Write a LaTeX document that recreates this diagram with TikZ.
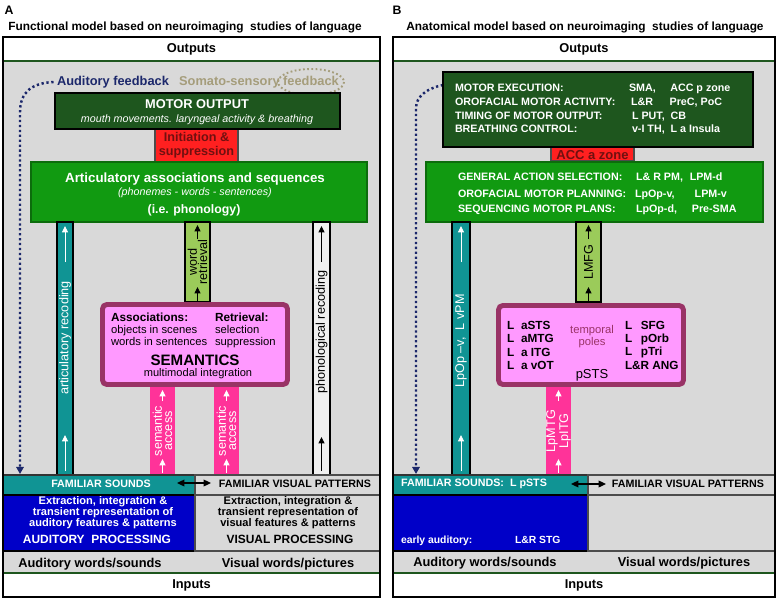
\documentclass[tikz,border=0pt]{standalone}
\usepackage{fontspec}
\setmainfont{Liberation Sans}
\usetikzlibrary{arrows.meta}

\definecolor{panelgray}{HTML}{D9D9D9}
\definecolor{motorgreen}{HTML}{1E561E}
\definecolor{phongreen}{HTML}{119A11}
\definecolor{recteal}{HTML}{109494}
\definecolor{wordgreen}{HTML}{9BCB5A}
\definecolor{sempink}{HTML}{FF99FF}
\definecolor{semframe}{HTML}{993366}
\definecolor{accesspink}{HTML}{FF3399}
\definecolor{audblue}{HTML}{0000C8}
\definecolor{initred}{HTML}{FF2020}
\definecolor{inittext}{HTML}{701010}
\definecolor{fbnavy}{HTML}{1C286B}
\definecolor{fbkhaki}{HTML}{A59D7B}

\newcommand{\fsize}[2]{\fontsize{#1}{#2}\selectfont}

\begin{document}
\begin{tikzpicture}[x=0.02cm,y=-0.02cm,
  txt/.style={inner sep=0pt,outer sep=0pt},
  head/.style={txt,font=\fsize{7.3}{8}\bfseries},
  small/.style={txt,font=\fsize{6.1}{7}\bfseries},
  barlabel/.style={txt,rotate=90,align=center,font=\fsize{7.2}{5.9}},
  uparrow/.style={-{Triangle[width=3.4pt,length=3.6pt]},line width=0.55pt},
  twoway/.style={{Triangle[width=3.8pt,length=4.2pt]}-{Triangle[width=3.8pt,length=4.2pt]},line width=0.75pt},
  feedback/.style={draw=fbnavy,line width=1.4pt,dash pattern=on 1.3pt off 1.5pt,-{Triangle[width=4.2pt,length=4pt]}}]
\useasboundingbox (0,0) rectangle (777,601);

% ---------- A: functional model ----------
\node[txt,font=\fsize{7}{8}\bfseries] (tagA) at (9,10) {A};
\node[txt,font=\fsize{6.75}{8}\bfseries] (titleA) at (185,27) {Functional model based on neuroimaging\ \ studies of language};
\fill[panelgray] (3,37) rectangle (380,597);
\fill[white] (3,37) rectangle (380,61);
\fill[white] (3,573) rectangle (380,597);
\draw[motorgreen,line width=1pt] (3,61) -- (380,61) (3,573) -- (380,573);
\node[head] (outA) at (191.5,49.5) {Outputs};
\node[head] (inA) at (191.5,585) {Inputs};

% feedback loops
\draw[fbkhaki,line width=1.1pt,dash pattern=on 1pt off 1.4pt] (311,82) ellipse [x radius=33,y radius=13];
\node[head,text=fbnavy] (audfbA) at (113,82) {Auditory feedback};
\node[head,text=fbkhaki] (somfbA) at (259,82) {Somato-sensory feedback};
\coordinate (fbturnA) at (20,112);
\coordinate (fbendA) at (20,474);
\draw[feedback] ([xshift=-2pt]audfbA.west) .. controls (32,83) and (20,92) .. (fbturnA) -- (fbendA);

% motor output
\filldraw[fill=initred,draw=black!70,line width=0.6pt] (155,129) rectangle (238,162);
\node[txt,align=center,font=\fsize{7.2}{8.2}\bfseries,text=inittext] (initA) at (196.5,145) {Initiation \&\\suppression};
\filldraw[fill=motorgreen,draw=black,line width=1pt] (55,93) rectangle (340,129);
\node[head,text=white] (motorA) at (197,104) {MOTOR OUTPUT};
\node[txt,font=\fsize{6.1}{7}\itshape,text=white] (mouthA) at (197,120) {mouth movements. laryngeal activity \& breathing};

% phonology
\filldraw[fill=phongreen,draw=phongreen!70!black,line width=0.6pt] (31,162) rectangle (367,222);
\node[txt,font=\fsize{7.6}{8}\bfseries,text=white] (artA) at (195,179) {Articulatory associations and sequences};
\node[txt,font=\fsize{6.1}{7}\itshape,text=white] (phonemesA) at (195,193) {(phonemes - words - sentences)};
\node[txt,font=\fsize{7}{8}\bfseries,text=white] (phonA) at (194,210) {(i.e. phonology)};

% bars
\filldraw[fill=recteal,draw=black,line width=1pt] (57,222) rectangle (73,475);
\node[barlabel,text=white] (artrecA) at (65,338) {articulatory recoding};
\coordinate (artupA) at (65,262);
\coordinate (artlowA) at (65,471);
\draw[uparrow,white] (artupA) -- ++(0,-36);
\draw[uparrow,white] (artlowA) -- ++(0,-36);

\filldraw[fill=wordgreen,draw=black,line width=1pt] (185,222) rectangle (210,302);
\node[barlabel] (wordA) at (197.5,262) {word\\retrieval};
\coordinate (wordupA) at (197.5,239);
\coordinate (wordlowA) at (197.5,301);
\draw[uparrow] (wordupA) -- ++(0,-14);
\draw[uparrow] (wordlowA) -- ++(0,-14);

\filldraw[fill=black!6,draw=black,line width=1pt] (313,222) rectangle (330,475);
\node[barlabel] (phonrecA) at (321.5,332) {phonological recoding};
\coordinate (phonupA) at (321.5,262);
\coordinate (phonlowA) at (321.5,471);
\draw[uparrow] (phonupA) -- ++(0,-36);
\draw[uparrow] (phonlowA) -- ++(0,-34);

\fill[accesspink] (150,387) rectangle (175,475);
\fill[accesspink] (214,387) rectangle (239,475);
\node[barlabel,text=white] (accessA) at (162.5,431) {semantic\\access};
\node[barlabel,text=white] (accessB) at (226.5,431) {semantic\\access};
\coordinate (accupA) at (162.5,401);
\coordinate (acclowA) at (162.5,473);
\coordinate (accupB) at (226.5,401);
\coordinate (acclowB) at (226.5,473);
\draw[uparrow,white] (accupA) -- ++(0,-11);
\draw[uparrow,white] (acclowA) -- ++(0,-14);
\draw[uparrow,white] (accupB) -- ++(0,-11);
\draw[uparrow,white] (acclowB) -- ++(0,-14);

% semantics
\filldraw[fill=sempink,draw=semframe,line width=2.8pt,rounded corners=2.5pt] (102.5,304.5) rectangle (287.5,384.5);
\node[txt,anchor=base west,font=\fsize{6.7}{7}\bfseries] (assocA) at (111,321) {Associations:};
\node[txt,anchor=base west,font=\fsize{6.4}{7}] (objA) at (111,333) {objects in scenes};
\node[txt,anchor=base west,font=\fsize{6.4}{7}] (wordsA) at (111,345) {words in sentences};
\node[txt,anchor=base west,font=\fsize{6.7}{7}\bfseries] (retrA) at (215,321) {Retrieval:};
\node[txt,anchor=base west,font=\fsize{6.4}{7}] (selA) at (215,333) {selection};
\node[txt,anchor=base west,font=\fsize{6.4}{7}] (suppA) at (215,345) {suppression};
\node[txt,anchor=base,font=\fsize{8.6}{9}\bfseries] (semA) at (195,365) {SEMANTICS};
\node[txt,anchor=base,font=\fsize{6.3}{7}] (multiA) at (198,376) {multimodal integration};

% familiar patterns and processing
\filldraw[fill=recteal,draw=black!80,line width=0.9pt] (3,475) rectangle (195,495);
\filldraw[fill=panelgray,draw=black!70,line width=0.9pt] (195,475) rectangle (380,495);
\filldraw[fill=audblue,draw=black,line width=1.3pt] (3,495) rectangle (195,551);
\filldraw[fill=panelgray,draw=black!70,line width=0.9pt] (195,495) rectangle (380,551);
\node[small,text=white] (famsndA) at (101,484) {FAMILIAR SOUNDS};
\node[small] (famvisA) at (295,484) {FAMILIAR VISUAL PATTERNS};
\coordinate (fsarrA) at (177,483);
\coordinate (fvarrA) at (211,483);
\draw[twoway] (fsarrA) -- (fvarrA);
\node[txt,align=center,font=\fsize{6.3}{6.2}\bfseries,text=white] (audextA) at (103,513) {Extraction, integration \&\\transient representation of\\auditory features \& patterns};
\node[txt,font=\fsize{6.8}{7}\bfseries,text=white] (audprocA) at (97,539) {AUDITORY\ \ PROCESSING};
\node[txt,align=center,font=\fsize{6.3}{6.2}\bfseries] (visextA) at (288,513) {Extraction, integration \&\\transient representation of\\visual features \& patterns};
\node[txt,font=\fsize{6.8}{7}\bfseries] (visprocA) at (290,539) {VISUAL PROCESSING};
\node[head] (audwA) at (90,564) {Auditory words/sounds};
\node[head] (viswA) at (288,564) {Visual words/pictures};
\draw[line width=1.4pt] (3,37) rectangle (380,597);

% ---------- B: anatomical model ----------
\node[txt,font=\fsize{7}{8}\bfseries] (tagB) at (397,10) {B};
\node[txt,font=\fsize{6.75}{8}\bfseries] (titleB) at (585,27) {Anatomical model based on neuroimaging\ \ studies of language};
\fill[panelgray] (393,37) rectangle (775,597);
\fill[white] (393,37) rectangle (775,61);
\fill[white] (393,573) rectangle (775,597);
\draw[motorgreen,line width=1pt] (393,61) -- (775,61) (393,573) -- (775,573);
\node[head] (outB) at (584,49.5) {Outputs};
\node[head] (inB) at (584,585) {Inputs};

\coordinate (fbstartB) at (443,85);
\coordinate (fbturnB) at (416,108);
\coordinate (fbendB) at (416,474);
\draw[feedback] (fbstartB) .. controls (428,88) and (416,96) .. (fbturnB) -- (fbendB);

% motor areas
\filldraw[fill=initred,draw=black!70,line width=0.6pt] (551,140) rectangle (634,161);
\node[txt,font=\fsize{7.4}{8}\bfseries,text=inittext] (accB) at (592.5,155) {ACC a zone};
\filldraw[fill=motorgreen,draw=black,line width=1pt] (443,72) rectangle (753,147);
\node[small,anchor=base west,text=white] (motB1) at (455,92) {MOTOR EXECUTION:};
\node[small,anchor=base west,text=white] (motB2) at (455,106) {OROFACIAL MOTOR ACTIVITY:};
\node[small,anchor=base west,text=white] (motB3) at (455,119.5) {TIMING OF MOTOR OUTPUT:};
\node[small,anchor=base west,text=white] (motB4) at (455,133) {BREATHING CONTROL:};
\node[small,anchor=base west,text=white] (motB1r) at (629,92) {\makebox[23.5pt][l]{SMA,}ACC p zone};
\node[small,anchor=base west,text=white] (motB2r) at (631,106) {\makebox[22pt][l]{L\&R}PreC, PoC};
\node[small,anchor=base west,text=white] (motB3r) at (632,119.5) {L PUT,\ \ CB};
\node[small,anchor=base west,text=white] (motB4r) at (632,133) {v-I TH,\ \ L a Insula};

% planning areas
\filldraw[fill=phongreen,draw=phongreen!70!black,line width=0.6pt] (426,162) rectangle (763,222);
\node[small,anchor=base west,text=white] (planB1) at (458,181) {GENERAL ACTION SELECTION:};
\node[small,anchor=base west,text=white] (planB2) at (458,197) {OROFACIAL MOTOR PLANNING:};
\node[small,anchor=base west,text=white] (planB3) at (458,213) {SEQUENCING MOTOR PLANS:};
\node[small,anchor=base west,text=white] (planB1r) at (636,181) {\makebox[30.6pt][l]{L\& R PM,}LPM-d};
\node[small,anchor=base west,text=white] (planB2r) at (635,197) {\makebox[34pt][l]{LpOp-v,}LPM-v};
\node[small,anchor=base west,text=white] (planB3r) at (636,213) {\makebox[31.8pt][l]{LpOp-d,}Pre-SMA};

% bars
\filldraw[fill=recteal,draw=black,line width=1pt] (452,222) rectangle (470,475);
\node[barlabel,text=white] (vpmB) at (461,341) {LpOp --v,\ \ L vPM};
\coordinate (vpmupB) at (461,262);
\coordinate (vpmlowB) at (461,471);
\draw[uparrow,white] (vpmupB) -- ++(0,-36);
\draw[uparrow,white] (vpmlowB) -- ++(0,-36);

\filldraw[fill=wordgreen,draw=black,line width=1pt] (576,222) rectangle (601,302);
\node[barlabel] (lmfgB) at (588.5,262) {LMFG};
\coordinate (lmfgupB) at (588.5,239);
\coordinate (lmfglowB) at (588.5,301);
\draw[uparrow] (lmfgupB) -- ++(0,-14);
\draw[uparrow] (lmfglowB) -- ++(0,-14);

\fill[accesspink] (546,387) rectangle (571,475);
\node[barlabel,text=white] (mtgB) at (558.5,431) {LpMTG\\LpITG};
\coordinate (mtgupB) at (558.5,401);
\coordinate (mtglowB) at (558.5,473);
\draw[uparrow,white] (mtgupB) -- ++(0,-11);
\draw[uparrow,white] (mtglowB) -- ++(0,-14);

% semantic areas
\filldraw[fill=sempink,draw=semframe,line width=2.8pt,rounded corners=2.5pt] (498.5,305.5) rectangle (683.5,384.5);
\node[txt,anchor=base west,font=\fsize{6.7}{7}\bfseries] (semB1) at (507,329) {\makebox[8pt][l]{L}aSTS};
\node[txt,anchor=base west,font=\fsize{6.7}{7}\bfseries] (semB2) at (507,342.5) {\makebox[8pt][l]{L}aMTG};
\node[txt,anchor=base west,font=\fsize{6.7}{7}\bfseries] (semB3) at (507,356) {\makebox[8pt][l]{L}a ITG};
\node[txt,anchor=base west,font=\fsize{6.7}{7}\bfseries] (semB4) at (507,369) {\makebox[8pt][l]{L}a vOT};
\node[txt,anchor=base west,font=\fsize{6.7}{7}\bfseries] (semB5) at (625,329) {\makebox[9pt][l]{L}SFG};
\node[txt,anchor=base west,font=\fsize{6.7}{7}\bfseries] (semB6) at (625,342) {\makebox[9pt][l]{L}pOrb};
\node[txt,anchor=base west,font=\fsize{6.7}{7}\bfseries] (semB7) at (625,355) {\makebox[9pt][l]{L}pTri};
\node[txt,anchor=base west,font=\fsize{6.7}{7}\bfseries] (semB8) at (625,369) {L\&R ANG};
\node[txt,anchor=base,font=\fsize{6.4}{7},text=semframe] (tempB) at (592,333) {temporal};
\node[txt,anchor=base,font=\fsize{6.4}{7},text=semframe] (polesB) at (592,345) {poles};
\node[txt,anchor=base,font=\fsize{7.4}{8}] (pstsB) at (592,378) {pSTS};

% familiar patterns and processing
\filldraw[fill=recteal,draw=black!80,line width=0.9pt] (393,475) rectangle (588,495);
\filldraw[fill=panelgray,draw=black!70,line width=0.9pt] (588,475) rectangle (775,495);
\filldraw[fill=audblue,draw=black,line width=1.3pt] (393,495) rectangle (588,551);
\filldraw[fill=panelgray,draw=black!70,line width=0.9pt] (588,495) rectangle (775,551);
\node[small,text=white] (famsndB) at (474,484) {FAMILIAR SOUNDS:\ \ L pSTS};
\node[small] (famvisB) at (688,484) {FAMILIAR VISUAL PATTERNS};
\coordinate (fsarrB) at (571,484);
\coordinate (fvarrB) at (606,484);
\draw[twoway] (fsarrB) -- (fvarrB);
\node[txt,anchor=base west,font=\fsize{5.9}{7}\bfseries,text=white] (earlyB) at (401,543) {early auditory:};
\node[txt,anchor=base west,font=\fsize{5.9}{7}\bfseries,text=white] (stgB) at (515,543) {L\&R STG};
\node[head] (audwB) at (485,563) {Auditory words/sounds};
\node[head] (viswB) at (684,563) {Visual words/pictures};
\draw[line width=1.4pt] (393,37) rectangle (775,597);
\end{tikzpicture}
\end{document}
